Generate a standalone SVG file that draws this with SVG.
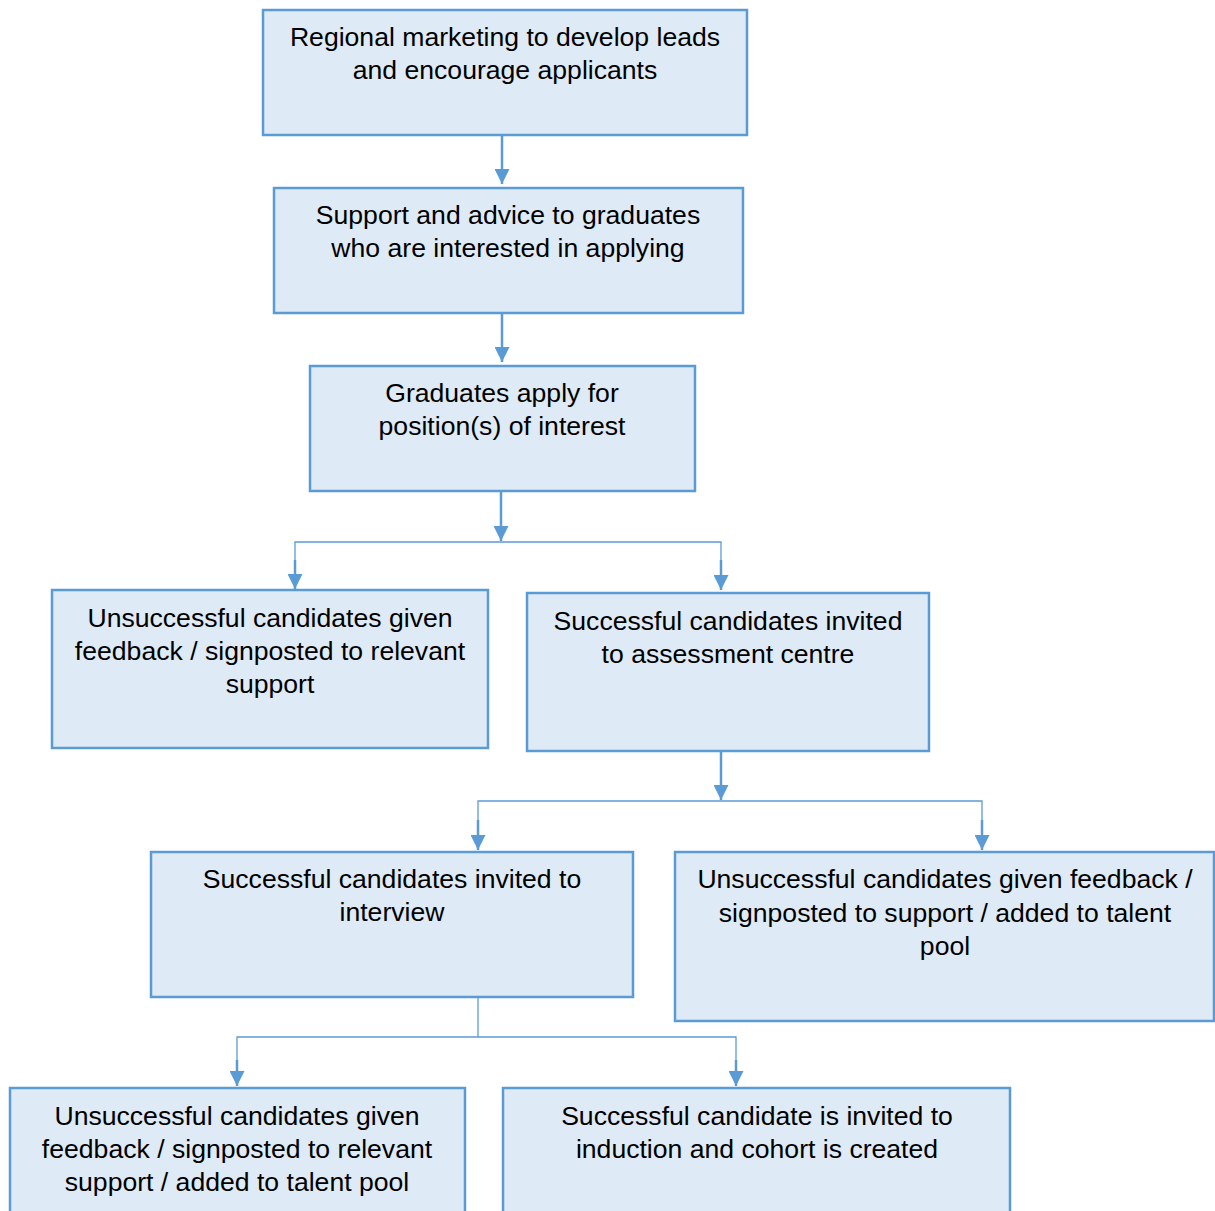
<svg xmlns="http://www.w3.org/2000/svg" width="1215" height="1211" viewBox="0 0 1215 1211">
<defs>
<style>
.box{fill:#deeaf6;stroke:#5b9bd5;stroke-width:2.5}
.t{font-family:"Liberation Sans",Arial,sans-serif;font-size:26.6px;fill:#000;text-anchor:middle}
.c{fill:none;stroke:#5b9bd5;stroke-width:2.5}
.thin{fill:none;stroke:#5b9bd5;stroke-width:1.3}
</style>
<marker id="ah" viewBox="0 0 15 15" refX="15" refY="7.5" markerWidth="15" markerHeight="15" markerUnits="userSpaceOnUse" orient="auto">
<path d="M0,0 L15,7.5 L0,15 Z" fill="#5b9bd5"/>
</marker>
</defs>
<rect width="1215" height="1211" fill="#fff"/>
<g id="connectors">
<line class="c" x1="502" y1="136" x2="502" y2="184" marker-end="url(#ah)"/>
<line class="c" x1="502" y1="314" x2="502" y2="362" marker-end="url(#ah)"/>
<line class="c" x1="501" y1="492" x2="501" y2="541" marker-end="url(#ah)"/>
<polyline class="thin" points="295,589 295,542 721,542 721,589"/>
<line class="c" x1="295" y1="560" x2="295" y2="589" marker-end="url(#ah)"/>
<line class="c" x1="721" y1="560" x2="721" y2="590" marker-end="url(#ah)"/>
<line class="c" x1="721" y1="752" x2="721" y2="800" marker-end="url(#ah)"/>
<polyline class="thin" points="478,849 478,801 982,801 982,849"/>
<line class="c" x1="478" y1="820" x2="478" y2="850" marker-end="url(#ah)"/>
<line class="c" x1="982" y1="820" x2="982" y2="850" marker-end="url(#ah)"/>
<polyline class="thin" points="478,998 478,1037"/>
<polyline class="thin" points="237,1085 237,1037 736,1037 736,1085"/>
<line class="c" x1="237" y1="1060" x2="237" y2="1086" marker-end="url(#ah)"/>
<line class="c" x1="736" y1="1060" x2="736" y2="1086" marker-end="url(#ah)"/>
</g>
<g id="n1"><rect class="box" x="263" y="10" width="484" height="125"/>
<text class="t" x="505" y="46">Regional marketing to develop leads</text>
<text class="t" x="505" y="79">and encourage applicants</text></g>
<g id="n2"><rect class="box" x="274" y="188" width="469" height="125"/>
<text class="t" x="508" y="224">Support and advice to graduates</text>
<text class="t" x="508" y="257">who are interested in applying</text></g>
<g id="n3"><rect class="box" x="310" y="366" width="385" height="125"/>
<text class="t" x="502" y="402">Graduates apply for</text>
<text class="t" x="502" y="435">position(s) of interest</text></g>
<g id="n4"><rect class="box" x="52" y="590" width="436" height="158"/>
<text class="t" x="270" y="627">Unsuccessful candidates given</text>
<text class="t" x="270" y="660">feedback / signposted to relevant</text>
<text class="t" x="270" y="693">support</text></g>
<g id="n5"><rect class="box" x="527" y="593" width="402" height="158"/>
<text class="t" x="728" y="630">Successful candidates invited</text>
<text class="t" x="728" y="663">to assessment centre</text></g>
<g id="n6"><rect class="box" x="151" y="852" width="482" height="145"/>
<text class="t" x="392" y="888">Successful candidates invited to</text>
<text class="t" x="392" y="921">interview</text></g>
<g id="n7"><rect class="box" x="675" y="852" width="539" height="169"/>
<text class="t" x="945" y="888">Unsuccessful candidates given feedback /</text>
<text class="t" x="945" y="922">signposted to support / added to talent</text>
<text class="t" x="945" y="955">pool</text></g>
<g id="n8"><rect class="box" x="10" y="1088" width="455" height="140"/>
<text class="t" x="237" y="1125">Unsuccessful candidates given</text>
<text class="t" x="237" y="1158">feedback / signposted to relevant</text>
<text class="t" x="237" y="1191">support / added to talent pool</text></g>
<g id="n9"><rect class="box" x="503" y="1088" width="507" height="140"/>
<text class="t" x="757" y="1125">Successful candidate is invited to</text>
<text class="t" x="757" y="1158">induction and cohort is created</text></g>
</svg>
